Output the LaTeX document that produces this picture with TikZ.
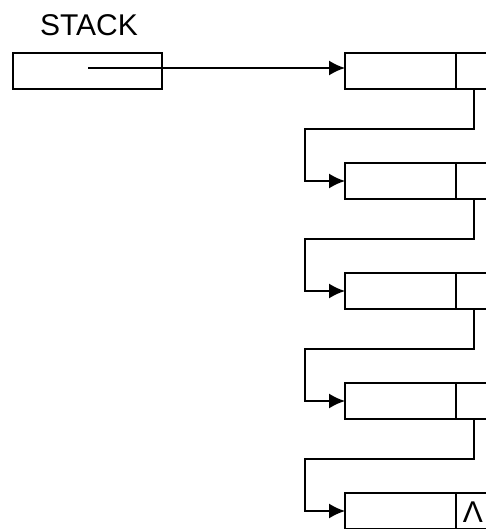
\documentclass[tikz,border=0pt]{standalone}
\usepackage{fontspec}
\setmainfont{Liberation Sans}
\usetikzlibrary{arrows.meta}
\begin{document}
\begin{tikzpicture}[x=1pt,y=-1pt,
  line width=1.7pt,
  cell/.style={draw, rectangle, inner sep=0pt, outer sep=0pt, minimum height=36pt, anchor=north west},
  datacell/.style={cell, minimum width=111pt},
  linkcell/.style={cell, minimum width=36pt},
  ptr/.style={-{Latex[length=16pt,width=15pt]}},
  lbl/.style={font=\fontsize{30}{30}\selectfont, inner sep=0pt}]
\useasboundingbox (0,0) rectangle (486,529);

% stack head pointer box
\node[cell, minimum width=149pt] (stack) at (13,53) {};
\node[lbl] (title) at (89,25) {STACK};

% the five list elements: data cell + link cell
\foreach \i/\y in {1/53, 2/163, 3/273, 4/383, 5/493} {
  \node[datacell] (d\i) at (345,\y) {};
  \node[linkcell] (p\i) at (d\i.north east) {};
}
\node[lbl] (nil) at ([xshift=-1pt,yshift=-1pt]p5.center) {Λ};

% head pointer
\coordinate (sp) at (88,68);
\draw[ptr] (sp) -- (sp -| d1.west);

% links between consecutive elements
\foreach \i/\j in {1/2, 2/3, 3/4, 4/5} {
  \draw[ptr] (p\i.south) -- ++(0,40) -| ([xshift=-40pt]d\j.west) -- (d\j.west);
}
\end{tikzpicture}
\end{document}
